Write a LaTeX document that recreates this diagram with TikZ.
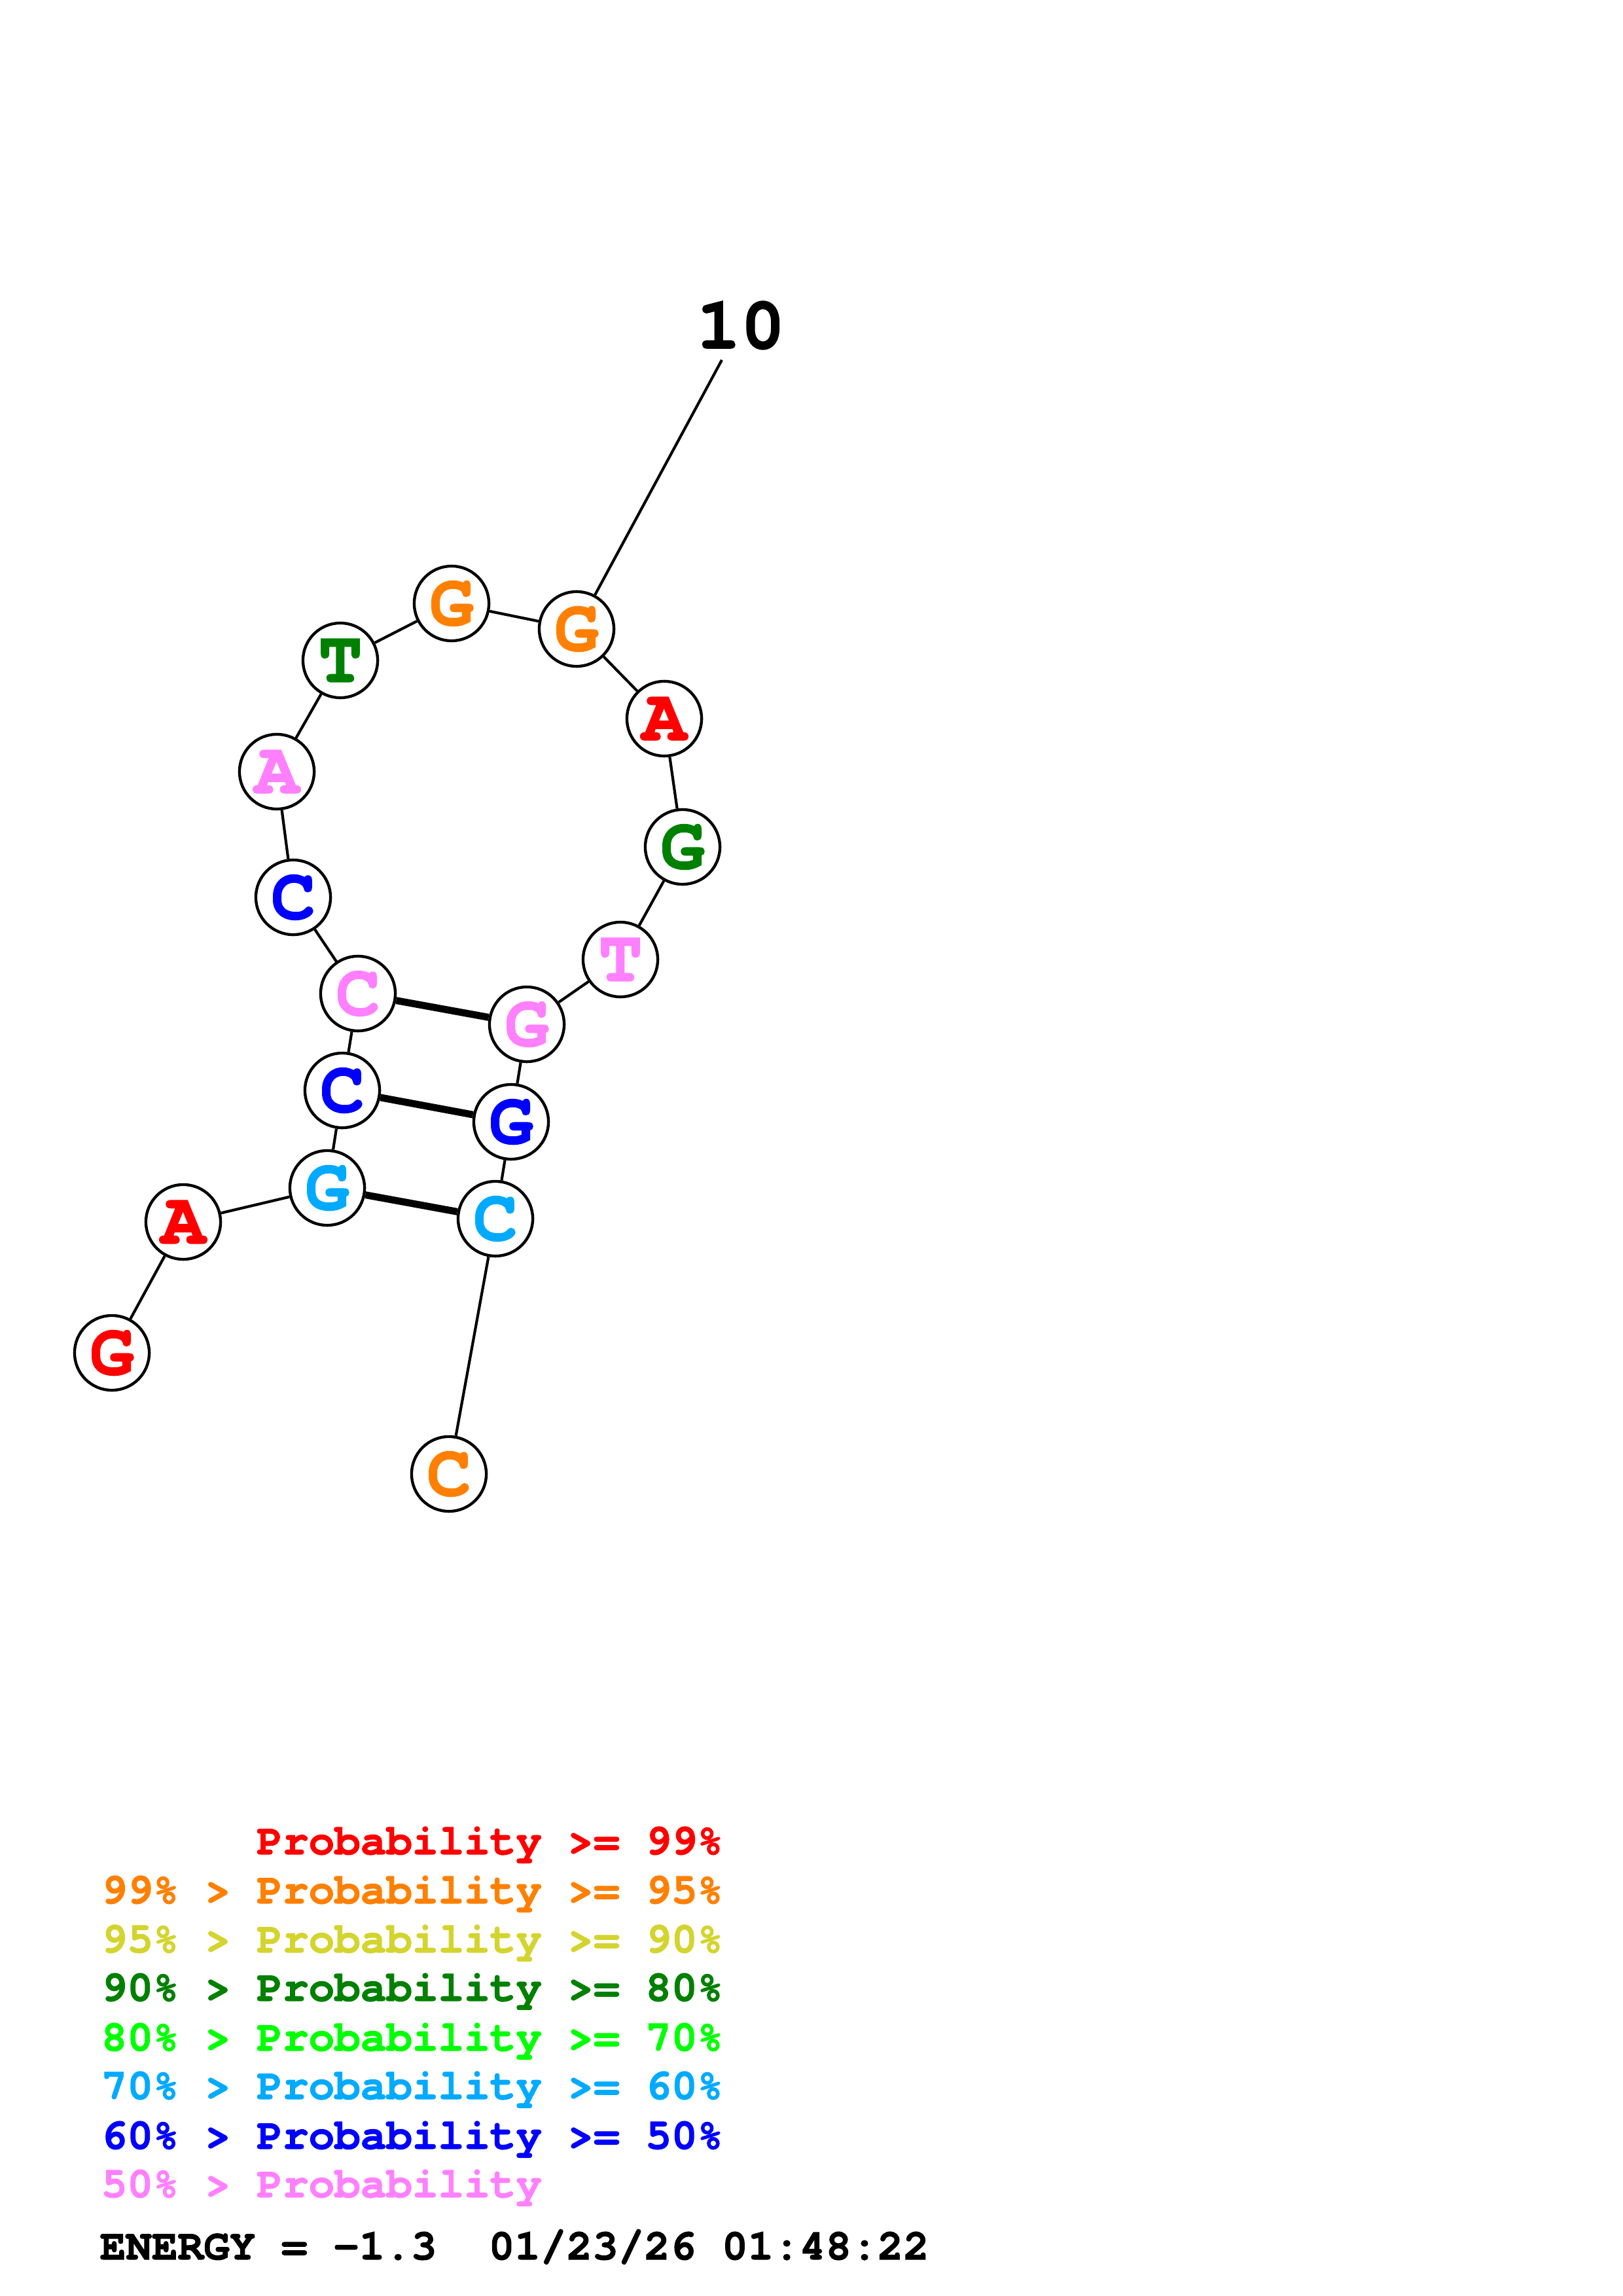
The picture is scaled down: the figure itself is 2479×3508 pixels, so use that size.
\documentclass[tikz,border=0pt]{standalone}
\usepackage{fontspec}
\newfontfamily\cour{TeX Gyre Cursor}[BoldFeatures={FakeBold=1.6}]
\definecolor{pr}{HTML}{FF0000}
\definecolor{po}{HTML}{FF8000}
\definecolor{py}{HTML}{D4D42E}
\definecolor{pdg}{HTML}{008000}
\definecolor{plg}{HTML}{00FF00}
\definecolor{plb}{HTML}{00AAFF}
\definecolor{pb}{HTML}{0000FF}
\definecolor{pp}{HTML}{FF80FF}
\begin{document}
\begin{tikzpicture}[x=0.24pt,y=-0.24pt,
  base/.style={circle,draw=black,fill=white,line width=1.05pt,minimum size=27.4pt,inner sep=0pt,
    font=\cour\bfseries\fontsize{27}{27}\selectfont},
  bb/.style={line width=1pt},
  pair/.style={line width=2.6pt},
  leg/.style={anchor=base west,inner sep=0pt,font=\cour\bfseries\fontsize{15.84}{16}\selectfont}]
\useasboundingbox (0,0) rectangle (2479,3508);
\node[base,text=pr]  (n1)  at (171,2067) {G};
\node[base,text=pr]  (n2)  at (280,1867) {A};
\node[base,text=plb] (n3)  at (500,1815) {G};
\node[base,text=pb]  (n4)  at (523,1666) {C};
\node[base,text=pp]  (n5)  at (547,1518) {C};
\node[base,text=pb]  (n6)  at (448,1371) {C};
\node[base,text=pp]  (n7)  at (423,1179) {A};
\node[base,text=pdg] (n8)  at (520,1009) {T};
\node[base,text=po]  (n9)  at (690,922) {G};
\node[base,text=po]  (n10) at (881,961) {G};
\node[base,text=pr]  (n11) at (1015,1098) {A};
\node[base,text=pdg] (n12) at (1043,1294) {G};
\node[base,text=pp]  (n13) at (948,1466) {T};
\node[base,text=pp]  (n14) at (805,1565) {G};
\node[base,text=pb]  (n15) at (781,1714) {G};
\node[base,text=plb] (n16) at (757,1862) {C};
\node[base,text=po]  (n17) at (686,2252) {C};
\node[inner sep=0pt,font=\cour\bfseries\fontsize{27}{27}\selectfont] (lab10) at (1132,497) {10};
\coordinate (e10) at (1103,550);
\draw[bb] (n1)--(n2);
\draw[bb] (n2)--(n3);
\draw[bb] (n3)--(n4);
\draw[bb] (n4)--(n5);
\draw[bb] (n5)--(n6);
\draw[bb] (n6)--(n7);
\draw[bb] (n7)--(n8);
\draw[bb] (n8)--(n9);
\draw[bb] (n9)--(n10);
\draw[bb] (n10)--(n11);
\draw[bb] (n11)--(n12);
\draw[bb] (n12)--(n13);
\draw[bb] (n13)--(n14);
\draw[bb] (n14)--(n15);
\draw[bb] (n15)--(n16);
\draw[bb] (n16)--(n17);
\draw[bb] (n10)--(e10);
\draw[pair] (n5)--(n14);
\draw[pair] (n4)--(n15);
\draw[pair] (n3)--(n16);
\node[leg,text=pr]  (l1) at (154,2833) {\hphantom{99\%~>~}Probability~>=~99\%};
\node[leg,text=po]  (l2) at (154,2908) {99\%~>~Probability~>=~95\%};
\node[leg,text=py]  (l3) at (154,2983) {95\%~>~Probability~>=~90\%};
\node[leg,text=pdg] (l4) at (154,3057) {90\%~>~Probability~>=~80\%};
\node[leg,text=plg] (l5) at (154,3133) {80\%~>~Probability~>=~70\%};
\node[leg,text=plb] (l6) at (154,3207) {70\%~>~Probability~>=~60\%};
\node[leg,text=pb]  (l7) at (154,3283) {60\%~>~Probability~>=~50\%};
\node[leg,text=pp]  (l8) at (154,3357) {50\%~>~Probability};
\node[leg,text=black] (en) at (152,3452) {ENERGY~=~-1.3~~01/23/26~01:48:22};
\end{tikzpicture}
\end{document}
